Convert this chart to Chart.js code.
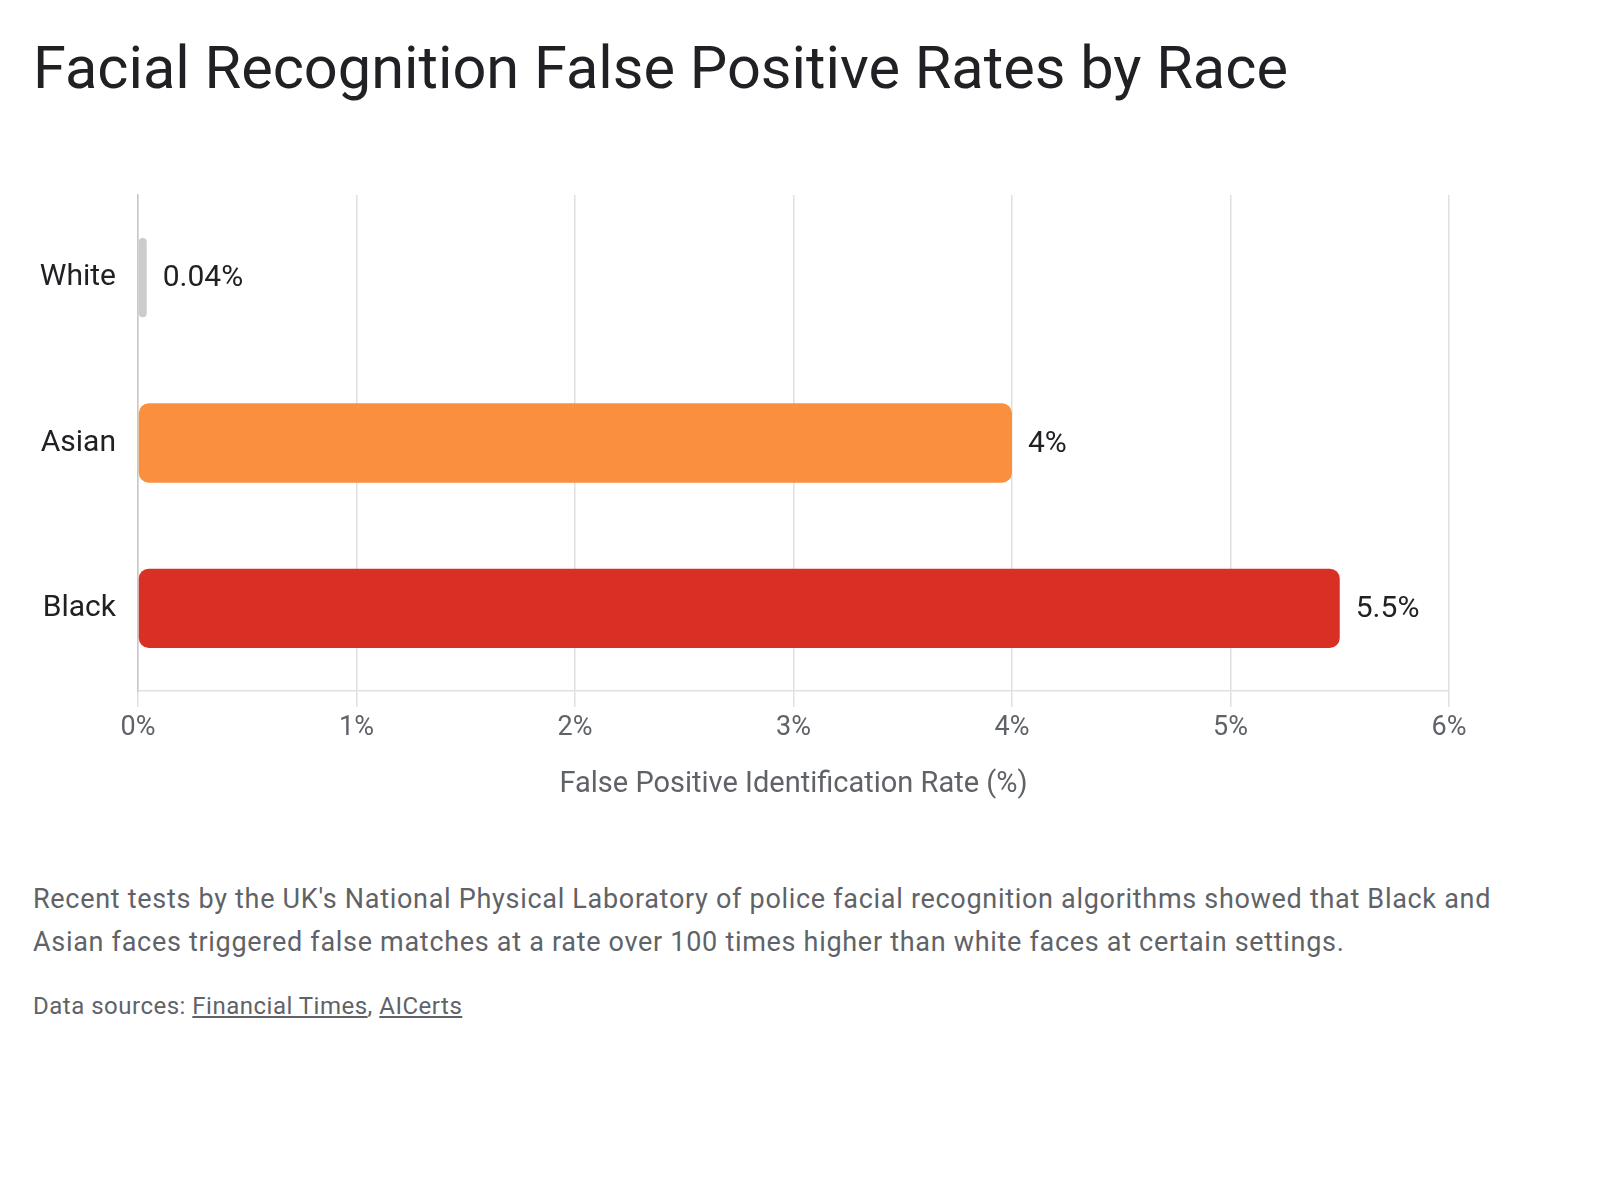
<!DOCTYPE html>
<html>
<head>
<meta charset="utf-8">
<script src="https://cdn.jsdelivr.net/npm/chart.js@4.4.1/dist/chart.umd.min.js"></script>
<style>
  body { margin: 0; background: #fff; font-family: Roboto, sans-serif; }
  h1 {
    position: absolute; left: 33px; top: 32px; margin: 0;
    font-size: 59.5px; font-weight: 400; line-height: 72px; color: #202124;
  }
  #wrap { position: absolute; left: 0; top: 120px; width: 1600px; height: 682px; }
  .note {
    position: absolute; left: 33px; top: 878px; width: 1500px; margin: 0;
    font-size: 27px; letter-spacing: 0.7px; line-height: 43px; color: #5f6368;
  }
  .src {
    position: absolute; left: 33px; top: 991px; margin: 0;
    font-size: 24px; letter-spacing: 0.5px; line-height: 30px; color: #5f6368;
  }
  .src a { color: #5f6368; text-decoration: underline; }
</style>
</head>
<body>
<h1>Facial Recognition False Positive Rates by Race</h1>
<div id="wrap"><canvas id="grafico" width="1600" height="682"></canvas></div>
<p class="note">Recent tests by the UK's National Physical Laboratory of police facial recognition algorithms showed that Black and Asian faces triggered false matches at a rate over 100 times higher than white faces at certain settings.</p>
<p class="src">Data sources: <a href="#">Financial Times</a>, <a href="#">AICerts</a></p>
<script>
const categorias = ['White', 'Asian', 'Black'];
const taxas = [0.04, 4, 5.5];
const cores = ['#cccccc', '#fa903e', '#d93025'];
const ticksX = [0, 1, 2, 3, 4, 5, 6];

Chart.defaults.font.family = 'Roboto, sans-serif';

// escreve o valor ao lado de cada barra
const rotulos = {
    id: 'rotulos',
    afterDatasetsDraw(chart) {
        const c = chart.ctx;
        const meta = chart.getDatasetMeta(0);
        c.save();
        c.font = '30px Roboto, sans-serif';
        c.fillStyle = '#202124';
        c.textBaseline = 'middle';
        meta.data.forEach((bar, i) => {
            c.fillText(taxas[i] + '%', bar.x + 16, bar.y + 1);
        });
        c.restore();
    }
};

const ctx = document.getElementById('grafico');

new Chart(ctx, {
    type: 'bar',

    data: {
        labels: categorias,

        datasets: [{
            data: taxas,

            backgroundColor: cores,

            borderRadius: 10,

            borderSkipped: false,

            barPercentage: 0.48,

            categoryPercentage: 1
        }]
    },

    options: {
        indexAxis: 'y',

        responsive: false,

        animation: false,

        layout: {
            padding: { top: 75, right: 151, left: 0, bottom: 0 }
        },

        plugins: {
            legend: { display: false },
            tooltip: { enabled: false }
        },

        scales: {
            x: {
                min: ticksX[0],
                max: ticksX[ticksX.length - 1],
                afterBuildTicks: (s) => { s.ticks = ticksX.map(v => ({ value: v })); },
                afterFit: (s) => { s.height = 111; },
                grid: { color: '#e0e0e0', lineWidth: 1.5, tickLength: 16 },
                border: { color: '#e0e0e0', width: 1.5 },
                ticks: {
                    padding: 5,
                    color: '#5f6368',
                    font: { size: 27 },
                    callback: (v) => v + '%'
                },
                title: {
                    display: true,
                    text: 'False Positive Identification Rate (%)',
                    color: '#5f6368',
                    font: { size: 29 },
                    padding: { top: 26, bottom: 0 }
                }
            },

            y: {
                afterFit: (s) => { s.width = 138; },
                grid: { display: false, drawTicks: false },
                border: { color: '#c8c8c8', width: 1.5 },
                ticks: {
                    padding: 22,
                    color: '#202124',
                    font: { size: 30 }
                }
            }
        }
    },

    plugins: [rotulos]
});
</script>
</body>
</html>
